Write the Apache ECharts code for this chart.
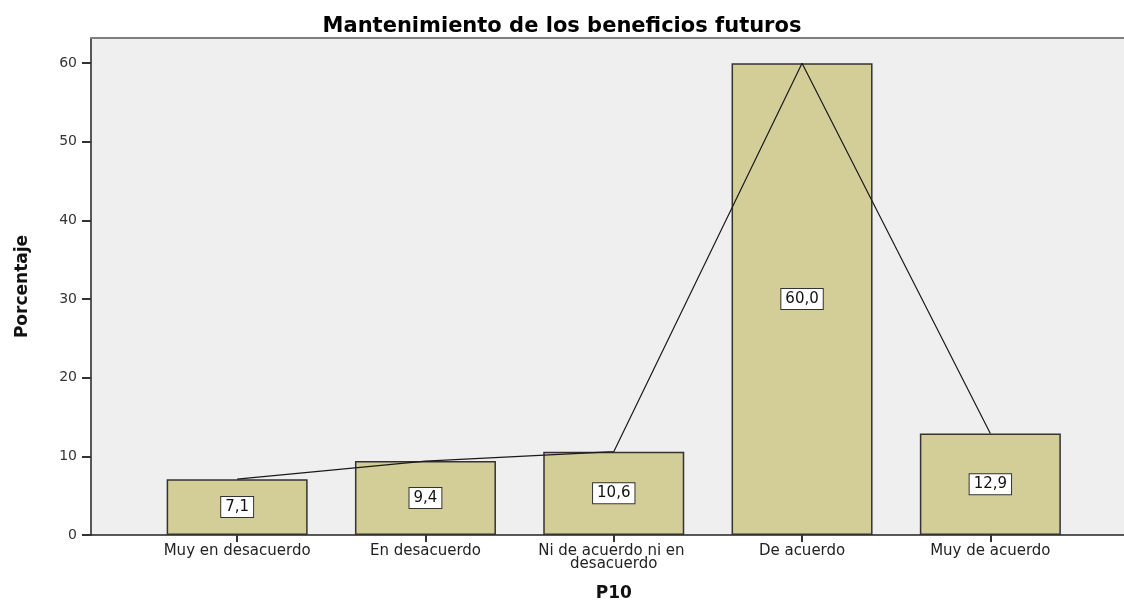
<!DOCTYPE html>
<html>
<head>
<meta charset="utf-8">
<title>Mantenimiento de los beneficios futuros</title>
<script src="https://cdn.jsdelivr.net/npm/echarts@6/dist/echarts.min.js"></script>
<style>
  html, body { margin: 0; padding: 0; background: #fff; }
  #chart { width: 1124px; height: 600px; }
</style>
</head>
<body>
<div id="chart"></div>
<script>
// datos de P10
const categories = [
  "Muy en desacuerdo",
  "En desacuerdo",
  "Ni de acuerdo ni en desacuerdo",
  "De acuerdo",
  "Muy de acuerdo",
];
const porcentajes = [7.1, 9.4, 10.6, 60.0, 12.9];
const yTicks = [0, 10, 20, 30, 40, 50, 60];

const font = "DejaVu Sans";
const yMax = 63.2;

const chart = echarts.init(document.getElementById("chart"));

const option = {
  animation: false,
  title: {
    text: "Mantenimiento de los beneficios futuros",
    left: "center",
    top: 11,
    textStyle: {
      fontFamily: font,
      fontSize: 21,
      fontWeight: "bold",
      color: "#000",
    },
  },
  grid: [
    // marco + fondo gris
    { left: 91, top: 38, right: -5, bottom: 65, outerBoundsMode: "none", containLabel: false, show: true, borderWidth: 0, backgroundColor: "#efefef" },
    // area de las barras
    { left: 143, top: 38, right: 39.5, bottom: 65, outerBoundsMode: "none", containLabel: false },
  ],
  xAxis: [
    {
      gridIndex: 0,
      type: "value",
      min: 0,
      max: 1,
      axisLine: { show: true, lineStyle: { color: "#222", width: 1.5 } },
      axisTick: { show: false },
      axisLabel: { show: false },
      splitLine: { show: false },
    },
    {
      gridIndex: 0,
      type: "value",
      position: "top",
      min: 0,
      max: 1,
      axisLine: { show: true, lineStyle: { color: "#7f7f7f", width: 2 } },
      axisTick: { show: false },
      axisLabel: { show: false },
      splitLine: { show: false },
    },
    {
      gridIndex: 1,
      type: "category",
      data: categories,
      name: "P10",
      nameLocation: "middle",
      nameGap: 50,
      nameTextStyle: { fontFamily: font, fontSize: 17, fontWeight: "bold", color: "#111" },
      axisLine: { show: false },
      axisTick: { show: true, alignWithLabel: true, length: 7, lineStyle: { color: "#333", width: 2 } },
      axisLabel: {
        fontFamily: font,
        fontSize: 15,
        color: "#222",
        margin: 10,
        width: 190,
        overflow: "break",
        lineHeight: 13,
        interval: 0,
      },
    },
  ],
  yAxis: [
    {
      gridIndex: 0,
      type: "value",
      min: 0,
      max: yMax,
      name: "Porcentaje",
      nameLocation: "middle",
      nameRotate: 90,
      nameGap: 60,
      nameTextStyle: { fontFamily: "Liberation Sans Narrow, " + font, fontSize: 17, fontWeight: "bold", color: "#111" },
      axisLine: { show: true, lineStyle: { color: "#222", width: 1.5 } },
      axisTick: { show: true, length: 9, customValues: yTicks, lineStyle: { color: "#333", width: 2 } },
      axisLabel: { fontFamily: font, fontSize: 14, color: "#333", margin: 14, customValues: yTicks },
      splitLine: { show: false },
    },
    {
      gridIndex: 1,
      type: "value",
      min: 0,
      max: yMax,
      show: false,
      splitLine: { show: false },
    },
  ],
  series: [
    {
      name: "Porcentaje",
      type: "bar",
      xAxisIndex: 2,
      yAxisIndex: 1,
      barWidth: 141,
      data: porcentajes,
      itemStyle: { color: "#d3ce97", borderColor: "#333", borderWidth: 1.5 },
      label: {
        show: true,
        position: "inside",
        formatter: (p) => p.value.toFixed(1).replace(".", ","),
        fontFamily: font,
        fontSize: 15,
        color: "#111",
        backgroundColor: "#fff",
        borderColor: "#333",
        borderWidth: 1,
        padding: [3, 4, 2, 4],
      },
      z: 2,
    },
    {
      name: "Porcentaje",
      type: "line",
      xAxisIndex: 2,
      yAxisIndex: 1,
      data: porcentajes,
      symbol: "none",
      lineStyle: { color: "#1a1a1a", width: 1.2 },
      z: 3,
    },
  ],
};

chart.setOption(option);
</script>
</body>
</html>
